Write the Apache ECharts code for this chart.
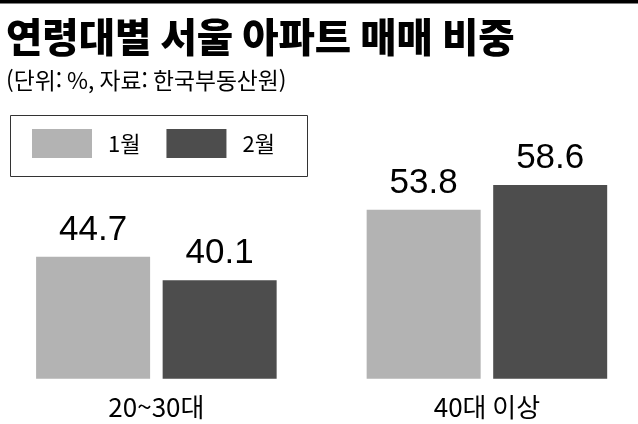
<!DOCTYPE html>
<html lang="ko">
<head>
<meta charset="UTF-8">
<title>연령대별 서울 아파트 매매 비중</title>
<script src="https://cdn.jsdelivr.net/npm/echarts@6/dist/echarts.min.js"></script>
<style>
  html, body { margin: 0; padding: 0; background: #fff; }
  #main { width: 638px; height: 424px; }
</style>
</head>
<body>
<div id="main"></div>
<script>
// 데이터
var categories = ['20~30대', '40대 이상'];
var seriesNames = ['1월', '2월'];
var janValues = [44.7, 53.8];
var febValues = [40.1, 58.6];

var KR = "'Noto Sans CJK KR', sans-serif";
var NUM = "'Liberation Sans Narrow', 'Liberation Sans', sans-serif";

var chart = echarts.init(document.getElementById('main'));

var labelStyle = {
  show: true,
  position: 'top',
  distance: 9,
  color: '#000',
  fontFamily: NUM,
  fontSize: 35
};

var option = {
  animation: false,
  backgroundColor: '#fff',
  title: [
    {
      text: '연령대별 서울 아파트 매매 비중',
      left: 1, top: 12,
      textStyle: { fontFamily: KR, fontWeight: 900, fontSize: 39.5, color: '#000' }
    },
    {
      text: '(단위: %, 자료: 한국부동산원)',
      left: 1, top: 64,
      textStyle: { fontFamily: KR, fontWeight: 'normal', fontSize: 22.8, color: '#000' }
    }
  ],
  graphic: [
    { type: 'rect', left: 0, top: 0, shape: { width: 638, height: 3.5 }, style: { fill: '#000' } },
    { type: 'rect', left: 8, top: 113, shape: { width: 297, height: 61 },
      style: { fill: 'none', stroke: '#333', lineWidth: 1 } }
  ],
  legend: {
    data: seriesNames,
    left: 32, top: 129,
    padding: 0,
    itemWidth: 60, itemHeight: 29,
    itemGap: 26,
    icon: 'rect',
    textStyle: { fontFamily: KR, fontSize: 22, color: '#000', padding: [0, 0, 0, 11] }
  },
  grid: { left: -8.9, right: -14.2, top: 100.6, bottom: 45.3, outerBoundsMode: 'none', containLabel: false },
  xAxis: {
    type: 'category',
    data: categories,
    axisLine: { show: false },
    axisTick: { show: false },
    axisLabel: { margin: 15, fontFamily: KR, fontSize: 26, color: '#000' }
  },
  yAxis: {
    type: 'value',
    min: 21, max: 75,
    show: false,
    splitLine: { show: false }
  },
  series: [
    {
      name: seriesNames[0], type: 'bar', data: janValues,
      barWidth: 114, barGap: '11%',
      itemStyle: { color: '#b3b3b3' },
      label: labelStyle
    },
    {
      name: seriesNames[1], type: 'bar', data: febValues,
      barWidth: 114, barGap: '11%',
      itemStyle: { color: '#4d4d4d' },
      label: labelStyle
    }
  ]
};
chart.setOption(option);
</script>
</body>
</html>
